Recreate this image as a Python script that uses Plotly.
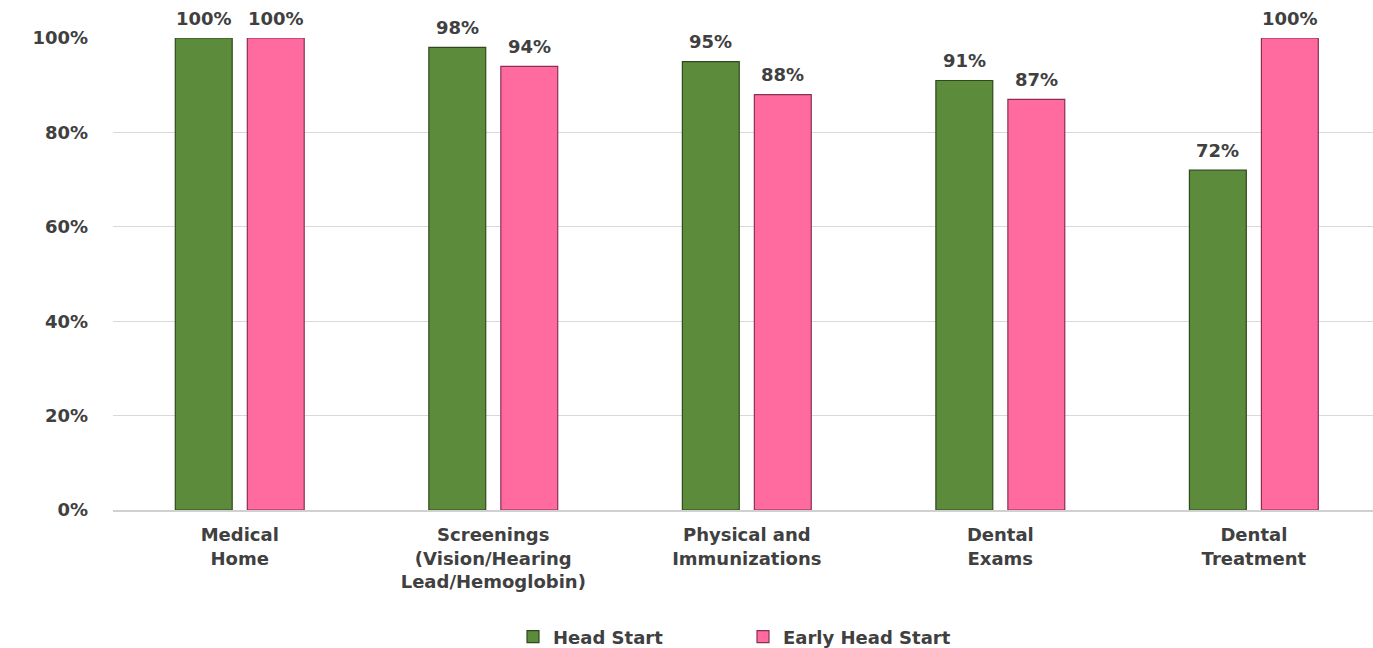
import plotly.graph_objects as go

categories = ["Medical<br>Home", "Screenings<br>(Vision/Hearing<br>Lead/Hemoglobin)",
              "Physical and<br>Immunizations", "Dental<br>Exams", "Dental<br>Treatment"]
head_start = [100, 98, 95, 91, 72]
early_head_start = [100, 94, 88, 87, 100]
series_names = ["Head Start", "Early Head Start"]
y_ticks = [0, 20, 40, 60, 80, 100]
y_tick_labels = ["0%", "20%", "40%", "60%", "80%", "100%"]

FONT = "DejaVu Sans"
TXT = "#404040"

fig = go.Figure()
series = [
    (series_names[0], head_start, "#5B8B3B", "#2E4A1C", -36),
    (series_names[1], early_head_start, "#FF6B9F", "#8A2F52", 36),
]
for name, vals, col, edge, dx in series:
    fig.add_trace(go.Bar(
        x=categories, y=vals, name=name,
        marker=dict(color=col, line=dict(color=edge, width=1.2)),
        cliponaxis=False,
    ))
    for c, v in zip(categories, vals):
        fig.add_annotation(x=c, y=v, text=f"<b>{v}%</b>", showarrow=False,
                           xshift=dx, yshift=20, yanchor="middle",
                           font=dict(family=FONT, size=18, color=TXT))

fig.update_layout(
    width=1373, height=648,
    margin=dict(l=113, r=0, t=38, b=138, autoexpand=False),
    paper_bgcolor="white", plot_bgcolor="white",
    barmode="group", bargap=0.432, bargroupgap=0.21,
    font=dict(family=FONT, color=TXT),
    showlegend=True,
    legend=dict(orientation="h", x=0.5, xanchor="center",
                yref="container", y=0.017, yanchor="middle",
                font=dict(family=FONT, size=18, color=TXT, weight="bold"),
                itemwidth=30, tracegroupgap=0, entrywidth=185),
)
fig.update_xaxes(showgrid=False, showline=True, linecolor="#D0D0D0", linewidth=1.5,
                 range=[-0.5, 4.47], automargin=False,
                 tickfont=dict(family=FONT, size=18, color=TXT, weight="bold"),
                 ticklabelstandoff=8)
fig.update_yaxes(range=[0, 100], tickvals=y_ticks, ticktext=y_tick_labels,
                 showgrid=True, gridcolor="#D9D9D9", gridwidth=1.2, zeroline=False,
                 automargin=False,
                 tickfont=dict(family=FONT, size=18, color=TXT, weight="bold"),
                 ticklabelstandoff=24)
fig.write_html("out.html")
